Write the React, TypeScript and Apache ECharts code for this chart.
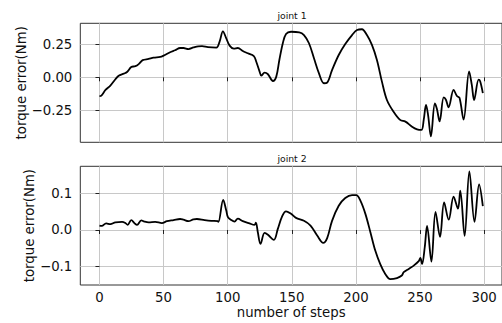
import React, { useEffect, useRef } from "react";
import * as echarts from "echarts";

const steps1 = [0, 1.5, 4.7, 8.5, 12.4, 15, 19, 21.5, 24.8, 28, 30.6, 33.7, 38.3, 42.2, 47.4, 50, 55.1, 59, 62.9, 65.5, 69.4, 73.3, 77, 80, 84.6, 91.2, 93.7, 96.3, 98.9, 101.5, 104.8, 107.9, 111.8, 115.7, 120.4, 122.3, 124.9, 126.2, 128.8, 131.4, 135.3, 137.9, 140.3, 143, 145.5, 149.4, 155.8, 159.5, 163.4, 167.3, 171.2, 175.1, 177.6, 181.4, 186.6, 191.7, 197, 200.9, 204.7, 208.6, 212.5, 216.4, 220.3, 224.2, 229.3, 234.5, 238.6, 243.8, 247.7, 251.1, 252.9, 254.7, 256.3, 258.5, 261.6, 263.2, 265.3, 268.5, 270.2, 272.3, 276.2, 278.8, 280.8, 284, 288.3, 290.4, 292.2, 295.7, 296.9, 299];
const joint1 = [-0.142, -0.138, -0.096, -0.063, -0.015, 0.012, 0.028, 0.04, 0.078, 0.084, 0.1, 0.13, 0.139, 0.149, 0.154, 0.164, 0.19, 0.205, 0.222, 0.222, 0.214, 0.226, 0.235, 0.236, 0.228, 0.225, 0.27, 0.348, 0.295, 0.24, 0.217, 0.222, 0.199, 0.182, 0.161, 0.118, 0.043, 0.012, 0.035, 0.023, -0.028, 0.005, 0.131, 0.258, 0.328, 0.345, 0.341, 0.32, 0.258, 0.144, 0.03, -0.045, -0.04, 0.055, 0.169, 0.252, 0.32, 0.358, 0.364, 0.32, 0.245, 0.131, -0.033, -0.172, -0.26, -0.323, -0.336, -0.374, -0.394, -0.399, -0.323, -0.21, -0.286, -0.447, -0.197, -0.24, -0.334, -0.152, -0.17, -0.227, -0.095, -0.142, -0.155, -0.32, 0.045, -0.058, -0.172, -0.018, -0.03, -0.12];

const steps2 = [0, 1.8, 5.2, 8.5, 12.4, 17.6, 20.2, 22, 24.8, 27.5, 29.3, 32.6, 35, 38.3, 43.5, 48.7, 52.6, 57.8, 62.9, 65.5, 69.4, 73.3, 76, 82, 87.2, 92.3, 92.8, 96.5, 98.9, 100.2, 102.8, 105.4, 107.9, 111.8, 117, 120.9, 122, 123.5, 125.6, 128.8, 131.4, 136, 139.1, 142.3, 145.5, 149.4, 153.3, 159.5, 164.6, 169.8, 174.5, 177.6, 181.4, 186.6, 191.7, 197, 200.3, 203.5, 207.4, 211.3, 215.1, 219, 222.9, 226.8, 232, 235.8, 237.3, 241.2, 245.1, 249, 250.3, 251.6, 253.7, 255.5, 258.9, 262.1, 265.6, 268.8, 272.4, 276.2, 279.6, 281.4, 284.8, 288.5, 292.5, 296.1, 299];
const joint2 = [0.012, 0.011, 0.018, 0.016, 0.021, 0.022, 0.019, 0.014, 0.027, 0.018, 0.014, 0.026, 0.023, 0.021, 0.022, 0.019, 0.024, 0.027, 0.03, 0.028, 0.024, 0.029, 0.03, 0.027, 0.025, 0.024, 0.022, 0.082, 0.053, 0.035, 0.027, 0.023, 0.031, 0.024, 0.018, 0.014, 0.02, -0.006, -0.038, -0.008, -0.013, -0.027, 0.003, 0.036, 0.051, 0.044, 0.033, 0.025, 0.012, -0.015, -0.035, -0.022, 0.025, 0.066, 0.087, 0.095, 0.095, 0.08, 0.044, -0.006, -0.056, -0.093, -0.12, -0.134, -0.131, -0.124, -0.115, -0.106, -0.097, -0.085, -0.076, -0.093, -0.047, 0.011, -0.086, 0.049, -0.019, 0.075, 0.028, 0.091, 0.058, 0.107, -0.016, 0.16, 0.022, 0.124, 0.065];

const xTicks = [0, 50, 100, 150, 200, 250, 300];
const yTicks1 = [-0.25, 0, 0.25];
const yTicks2 = [-0.1, 0, 0.1];
const titles = ["joint 1", "joint 2"];
const yName = "torque error(Nm)";
const xName = "number of steps";

const FONT = "DejaVu Sans";

export default function App() {
  const ref = useRef<HTMLDivElement>(null);
  useEffect(() => {
    if (!ref.current) return;
    const chart = echarts.init(ref.current, undefined, { renderer: "svg" });
    const fmt = (d: number) => (v: number) => {
      const s = Math.abs(v).toFixed(d);
      return v < -1e-9 ? "\u2212" + s : s;
    };
    const mkX = (gi: number, showLabels: boolean) => ({
      type: "value",
      gridIndex: gi,
      min: -14.95,
      max: 313.95,
      axisLine: { show: false },
      axisTick: { show: true, customValues: xTicks, length: 4, lineStyle: { color: "#222", width: 1 } },
      axisLabel: {
        show: showLabels,
        customValues: xTicks,
        margin: 6,
        color: "#111",
        fontFamily: FONT,
        fontSize: 13.3,
        formatter: (v: number) => String(v),
      },
      splitLine: { show: true, lineStyle: { color: "#c8c8c8", width: 1 } },
      name: showLabels ? xName : "",
      nameLocation: "middle",
      nameGap: 21,
      nameMoveOverlap: false,
      nameTextStyle: { color: "#111", fontFamily: FONT, fontSize: 13.3 },
    });
    const mkY = (gi: number, min: number, max: number, ticks: number[], d: number, gap: number) => ({
      type: "value",
      gridIndex: gi,
      min,
      max,
      axisLine: { show: false },
      axisTick: { show: true, customValues: ticks, length: 4, lineStyle: { color: "#222", width: 1 } },
      axisLabel: {
        customValues: ticks,
        margin: 8,
        color: "#111",
        fontFamily: FONT,
        fontSize: 13.3,
        formatter: fmt(d),
      },
      splitLine: { show: true, lineStyle: { color: "#c8c8c8", width: 1 } },
      name: yName,
      nameLocation: "middle",
      nameGap: gap,
      nameMoveOverlap: false,
      nameTextStyle: { color: "#111", fontFamily: FONT, fontSize: 13.3 },
    });
    chart.setOption({
      animation: false,
      backgroundColor: "#ffffff",
      grid: [
        { left: 80.3, top: 23.3, width: 423.4, height: 119, show: true, borderColor: "#333", borderWidth: 1, backgroundColor: "transparent" },
        { left: 80.3, top: 166.3, width: 423.4, height: 118.7, show: true, borderColor: "#333", borderWidth: 1, backgroundColor: "transparent" },
      ],
      xAxis: [mkX(0, false), mkX(1, true)],
      yAxis: [mkY(0, -0.4924, 0.409, yTicks1, 2, 52), mkY(1, -0.1499, 0.1736, yTicks2, 1, 44)],
      graphic: [
        { type: "text", x: 292, y: 15.5, style: { text: titles[0], align: "center", verticalAlign: "middle", font: `9.3px "${FONT}"`, fill: "#111" } },
        { type: "text", x: 292, y: 158.5, style: { text: titles[1], align: "center", verticalAlign: "middle", font: `9.3px "${FONT}"`, fill: "#111" } },
      ],
      series: [
        {
          type: "line",
          xAxisIndex: 0,
          yAxisIndex: 0,
          data: steps1.map((s, i) => [s, joint1[i]]),
          showSymbol: false,
          smooth: 0.35,
          lineStyle: { color: "#000", width: 1.8 },
        },
        {
          type: "line",
          xAxisIndex: 1,
          yAxisIndex: 1,
          data: steps2.map((s, i) => [s, joint2[i]]),
          showSymbol: false,
          smooth: 0.35,
          lineStyle: { color: "#000", width: 1.8 },
        },
      ],
    });
    return () => chart.dispose();
  }, []);
  return <div ref={ref} style={{ position: "fixed", left: 0, top: 0, width: 502, height: 323 }} />;
}
